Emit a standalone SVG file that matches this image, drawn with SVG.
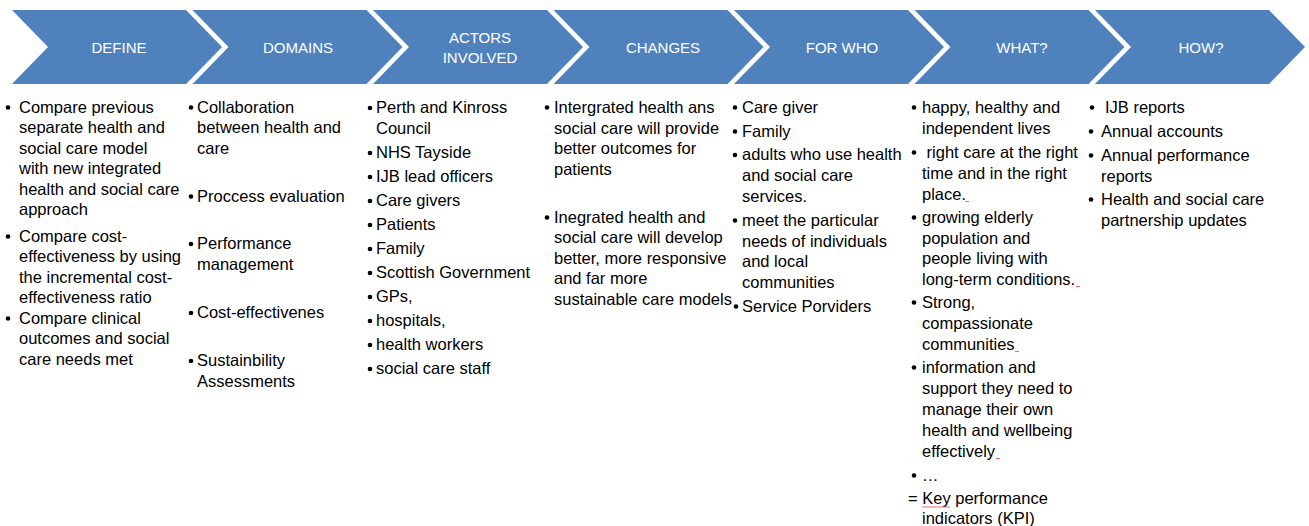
<svg xmlns="http://www.w3.org/2000/svg" width="1309" height="526" viewBox="0 0 1309 526">
  <style>
    .chev { fill: #4F81BD; }
    .hd { font-family: "Liberation Sans", Arial, sans-serif; font-size: 15px; fill: #FFFFFF; text-anchor: middle; }
    .tx { font-family: "Liberation Sans", Arial, sans-serif; font-size: 16.5px; fill: #000000; }
    .bul { fill: #000000; }
    .sq { stroke: #E46C6C; stroke-width: 1; fill: none; }
  </style>
  <defs>
    <!-- one chevron: top width 174, point depth 36, height 74 -->
    <polygon id="chevron" points="0,10 174,10 210,47 174,84 0,84 36,47"/>
    <circle id="dot" r="2.3"/>
  </defs>

  <!-- process header row -->
  <g id="step-define">
    <use href="#chevron" class="chev" x="12"/>
    <text class="hd" x="119" y="52.5">DEFINE</text>
  </g>
  <g id="step-domains">
    <use href="#chevron" class="chev" x="192.5"/>
    <text class="hd" x="298" y="52.5">DOMAINS</text>
  </g>
  <g id="step-actors">
    <use href="#chevron" class="chev" x="373"/>
    <text class="hd" x="480" y="42.5">ACTORS</text>
    <text class="hd" x="480" y="62.5">INVOLVED</text>
  </g>
  <g id="step-changes">
    <use href="#chevron" class="chev" x="553.5"/>
    <text class="hd" x="663" y="52.5">CHANGES</text>
  </g>
  <g id="step-forwho">
    <use href="#chevron" class="chev" x="734"/>
    <text class="hd" x="842" y="52.5">FOR WHO</text>
  </g>
  <g id="step-what">
    <use href="#chevron" class="chev" x="914.5"/>
    <text class="hd" x="1022" y="52.5">WHAT?</text>
  </g>
  <g id="step-how">
    <use href="#chevron" class="chev" x="1095"/>
    <text class="hd" x="1201" y="52.5">HOW?</text>
  </g>

  <!-- the steps run left to right; no separate connector lines -->
  <g id="connectors"/>

  <!-- DEFINE column -->
  <g id="list-define">
    <use href="#dot" class="bul" x="8" y="107.5"/>
    <use href="#dot" class="bul" x="8" y="236.5"/>
    <use href="#dot" class="bul" x="8" y="318.5"/>
    <text class="tx" x="19" y="112.5">Compare previous</text>
    <text class="tx" x="19" y="133">separate health and</text>
    <text class="tx" x="19" y="153.5">social care model</text>
    <text class="tx" x="19" y="174">with new integrated</text>
    <text class="tx" x="19" y="194.5">health and social care</text>
    <text class="tx" x="19" y="215">approach</text>
    <text class="tx" x="19" y="241.5">Compare cost-</text>
    <text class="tx" x="19" y="262">effectiveness by using</text>
    <text class="tx" x="19" y="282.5">the incremental cost-</text>
    <text class="tx" x="19" y="303">effectiveness ratio</text>
    <text class="tx" x="19" y="323.5">Compare clinical</text>
    <text class="tx" x="19" y="344">outcomes and social</text>
    <text class="tx" x="19" y="364.5">care needs met</text>
  </g>

  <!-- DOMAINS column -->
  <g id="list-domains">
    <use href="#dot" class="bul" x="191" y="107.5"/>
    <use href="#dot" class="bul" x="191" y="196.5"/>
    <use href="#dot" class="bul" x="191" y="244"/>
    <use href="#dot" class="bul" x="191" y="313"/>
    <use href="#dot" class="bul" x="191" y="361"/>
    <text class="tx" x="197" y="112.5">Collaboration</text>
    <text class="tx" x="197" y="133">between health and</text>
    <text class="tx" x="197" y="153.5">care</text>
    <text class="tx" x="197" y="201.5">Proccess evaluation</text>
    <text class="tx" x="197" y="249">Performance</text>
    <text class="tx" x="197" y="270">management</text>
    <text class="tx" x="197" y="318">Cost-effectivenes</text>
    <text class="tx" x="197" y="366">Sustainbility</text>
    <text class="tx" x="197" y="386.5">Assessments</text>
  </g>

  <!-- ACTORS INVOLVED column -->
  <g id="list-actors">
    <use href="#dot" class="bul" x="370" y="108"/>
    <use href="#dot" class="bul" x="370" y="153"/>
    <use href="#dot" class="bul" x="370" y="177"/>
    <use href="#dot" class="bul" x="370" y="201"/>
    <use href="#dot" class="bul" x="370" y="225"/>
    <use href="#dot" class="bul" x="370" y="249"/>
    <use href="#dot" class="bul" x="370" y="273"/>
    <use href="#dot" class="bul" x="370" y="297"/>
    <use href="#dot" class="bul" x="370" y="321"/>
    <use href="#dot" class="bul" x="370" y="345"/>
    <use href="#dot" class="bul" x="370" y="369"/>
    <text class="tx" x="376" y="113">Perth and Kinross</text>
    <text class="tx" x="376" y="134">Council</text>
    <text class="tx" x="376" y="158">NHS Tayside</text>
    <text class="tx" x="376" y="182">IJB lead officers</text>
    <text class="tx" x="376" y="206">Care givers</text>
    <text class="tx" x="376" y="230">Patients</text>
    <text class="tx" x="376" y="254">Family</text>
    <text class="tx" x="376" y="278">Scottish Government</text>
    <text class="tx" x="376" y="302">GPs,</text>
    <text class="tx" x="376" y="326">hospitals,</text>
    <text class="tx" x="376" y="350">health workers</text>
    <text class="tx" x="376" y="374">social care staff</text>
  </g>

  <!-- CHANGES column -->
  <g id="list-changes">
    <use href="#dot" class="bul" x="547" y="107.5"/>
    <use href="#dot" class="bul" x="547" y="217.5"/>
    <text class="tx" x="554" y="112.5">Intergrated health ans</text>
    <text class="tx" x="554" y="133.5">social care will provide</text>
    <text class="tx" x="554" y="154">better outcomes for</text>
    <text class="tx" x="554" y="175">patients</text>
    <text class="tx" x="554" y="222.5">Inegrated health and</text>
    <text class="tx" x="554" y="243">social care will develop</text>
    <text class="tx" x="554" y="263.5">better, more responsive</text>
    <text class="tx" x="554" y="284">and far more</text>
    <text class="tx" x="554" y="305">sustainable care models</text>
  </g>

  <!-- FOR WHO column -->
  <g id="list-forwho">
    <use href="#dot" class="bul" x="735" y="107.5"/>
    <use href="#dot" class="bul" x="735" y="131.5"/>
    <use href="#dot" class="bul" x="735" y="155"/>
    <use href="#dot" class="bul" x="735" y="220.5"/>
    <use href="#dot" class="bul" x="736" y="306.5"/>
    <text class="tx" x="742" y="112.5">Care giver</text>
    <text class="tx" x="742" y="136.5">Family</text>
    <text class="tx" x="742" y="160">adults who use health</text>
    <text class="tx" x="742" y="181">and social care</text>
    <text class="tx" x="742" y="202">services.</text>
    <text class="tx" x="742" y="225.5">meet the particular</text>
    <text class="tx" x="742" y="246.5">needs of individuals</text>
    <text class="tx" x="742" y="267">and local</text>
    <text class="tx" x="742" y="288">communities</text>
    <text class="tx" x="742" y="311.5">Service Porviders</text>
  </g>

  <!-- WHAT? column -->
  <g id="list-what">
    <use href="#dot" class="bul" x="914" y="107.5"/>
    <use href="#dot" class="bul" x="914" y="152.5"/>
    <use href="#dot" class="bul" x="914" y="217.5"/>
    <use href="#dot" class="bul" x="914" y="302.5"/>
    <use href="#dot" class="bul" x="914" y="367.5"/>
    <use href="#dot" class="bul" x="914" y="475.5"/>
    <text class="tx" x="922" y="112.5">happy, healthy and</text>
    <text class="tx" x="922" y="133.5">independent lives</text>
    <text class="tx" x="922" y="157.5" xml:space="preserve"> right care at the right</text>
    <text class="tx" x="922" y="178.5">time and in the right</text>
    <text class="tx" x="922" y="199.5">place.</text>
    <text class="tx" x="922" y="222.5">growing elderly</text>
    <text class="tx" x="922" y="243.5">population and</text>
    <text class="tx" x="922" y="264">people living with</text>
    <text class="tx" x="922" y="284.5">long-term conditions.</text>
    <text class="tx" x="922" y="307.5">Strong,</text>
    <text class="tx" x="922" y="328.5">compassionate</text>
    <text class="tx" x="922" y="349.5">communities</text>
    <text class="tx" x="922" y="372.5">information and</text>
    <text class="tx" x="922" y="393.5">support they need to</text>
    <text class="tx" x="922" y="414.5">manage their own</text>
    <text class="tx" x="922" y="435.5">health and wellbeing</text>
    <text class="tx" x="922" y="456.5">effectively</text>
    <text class="tx" x="922" y="480.5">…</text>
    <text class="tx" x="908" y="503.5">= Key performance</text>
    <text class="tx" x="922" y="523.5">indicators (KPI)</text>
    <!-- spell-check marks -->
    <path class="sq" d="M965,201.5 h4"/>
    <path class="sq" d="M1076,286.5 h4"/>
    <path class="sq" d="M1015,351.5 h4"/>
    <path class="sq" d="M996,458.5 h4"/>
    <path class="sq" d="M922,507 h28"/>
  </g>

  <!-- HOW? column -->
  <g id="list-how">
    <use href="#dot" class="bul" x="1092" y="107.5"/>
    <use href="#dot" class="bul" x="1091" y="131.5"/>
    <use href="#dot" class="bul" x="1091" y="155.5"/>
    <use href="#dot" class="bul" x="1091" y="199.5"/>
    <text class="tx" x="1105" y="112.5">IJB reports</text>
    <text class="tx" x="1101" y="136.5">Annual accounts</text>
    <text class="tx" x="1101" y="160.5">Annual performance</text>
    <text class="tx" x="1101" y="181.5">reports</text>
    <text class="tx" x="1101" y="204.5">Health and social care</text>
    <text class="tx" x="1101" y="225.5">partnership updates</text>
  </g>
</svg>
